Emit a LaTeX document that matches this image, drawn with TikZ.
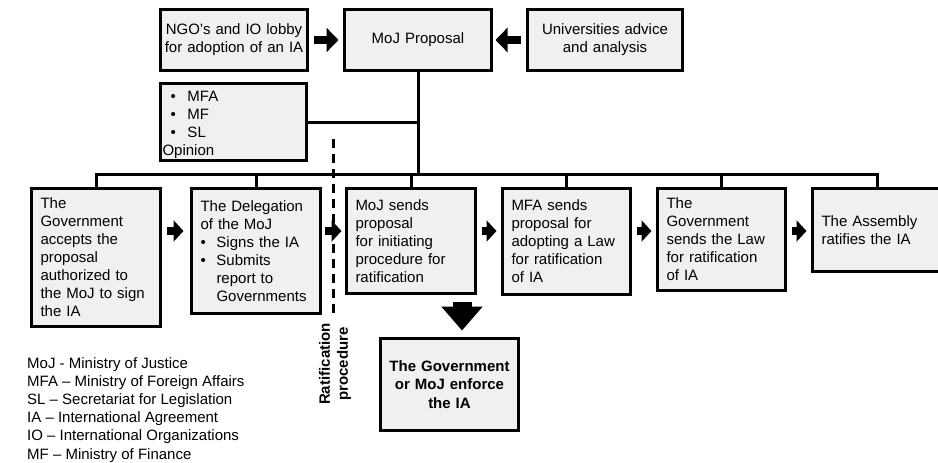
\documentclass[tikz,border=0pt]{standalone}
\usepackage{fontspec}
\setmainfont{Liberation Sans}
\usetikzlibrary{arrows.meta}
\definecolor{boxgray}{RGB}{240,240,240}
\newcommand{\bul}{\makebox[16pt][l]{\textbullet}}
\newcommand{\obul}{\makebox[25pt][l]{\hspace*{8pt}\textbullet}}
\begin{document}
\begin{tikzpicture}[x=1pt,y=-1pt,
  every node/.style={font=\fontsize{15}{18}\selectfont},
  box/.style={draw, line width=3pt, fill=boxgray, inner xsep=9pt, inner ysep=1pt, align=left},
  topbox/.style={box, align=center, inner xsep=4pt},
  conn/.style={line width=3pt},
  dashline/.style={line width=3pt, dash pattern=on 9pt off 6pt},
  blockarrow/.style={line width=8pt, -{Triangle[length=10pt,width=21pt]}},
  toparrow/.style={line width=8pt, -{Triangle[length=12pt,width=24pt]}},
  bigarrow/.style={line width=19pt, -{Triangle[length=24pt,width=40pt]}}]
\useasboundingbox (0,0) rectangle (938,463);
\clip (0,0) rectangle (938,463);

% top row
\node[topbox, text width=139pt, minimum height=61pt] (ngo) at (234,40) {NGO’s and IO lobby\\for adoption of an IA};
\node[topbox, text width=139pt, minimum height=61pt] (moj) at (418,40) {MoJ Proposal};
\node[topbox, text width=147pt, minimum height=61pt] (univ) at (605,40) {Universities advice\\and analysis};

% opinion
\node[box, inner xsep=2pt, text width=142pt, minimum height=71pt] (op) at (233.5,122) {\rule{0pt}{17pt}\obul MFA\\\obul MF\\\obul SL\\Opinion};

% bottom row
\node[box, text width=111pt, minimum height=138pt] (b1) at (96,257.5) {The\\Government\\accepts the\\proposal\\authorized to\\the MoJ to sign\\the IA};
\node[box, text width=111pt, minimum height=125pt] (b2) at (256,251) {The Delegation\\of the MoJ\\\bul Signs the IA\\\bul Submits\\\hspace*{16pt}report to\\\hspace*{16pt}Governments};
\node[box, text width=111pt, minimum height=105pt] (b3) at (411,241) {MoJ sends\\proposal\\for initiating\\procedure for\\ratification};
\node[box, text width=110pt, minimum height=106pt] (b4) at (566.5,241.5) {MFA sends\\proposal for\\adopting a Law\\for ratification\\of IA};
\node[box, text width=110pt, minimum height=102pt] (b5) at (721.5,239.5) {The\\Government\\sends the Law\\for ratification\\of IA};
\node[box, text width=111pt, minimum height=83pt] (b6) at (877,230) {The Assembly\\ratifies the IA};

% final box
\node[box, align=center, inner xsep=2pt, text width=134pt, minimum height=92pt, font=\fontsize{15}{18.5}\selectfont\bfseries] (fin) at (449.5,384.5) {The Government\\or MoJ enforce\\the IA};

% helper coordinates
\coordinate (bus) at (0,174);
\coordinate (arow) at (0,231);
\coordinate (ax) at (462,0);
\coordinate (dtop) at (333,139);
\coordinate (dbot) at (333,317);

% tree connectors
\draw[conn] (moj.south) -- (moj.south |- bus);
\draw[conn] (op.east) -- (op.east -| moj.south);
\draw[conn] (b1.north) |- (b6.north |- bus) -- (b6.north);
\draw[conn] (b2.north) -- (b2.north |- bus);
\draw[conn] (b3.north) -- (b3.north |- bus);
\draw[conn] (b4.north) -- (b4.north |- bus);
\draw[conn] (b5.north) -- (b5.north |- bus);

% dashed separator
\draw[dashline] (dtop) -- (dbot);

% block arrows
\draw[toparrow, shorten <=4.5pt, shorten >=4.5pt] (ngo.east) -- (moj.west);
\draw[toparrow, shorten <=5.5pt, shorten >=2.5pt] (univ.west) -- (moj.east);
\draw[blockarrow, shorten <=4.5pt, shorten >=6.5pt] (b1.east |- arow) -- (b2.west |- arow);
\draw[blockarrow, shorten <=2.5pt, shorten >=3.5pt] (b2.east |- arow) -- (b3.west |- arow);
\draw[blockarrow, shorten <=4.5pt, shorten >=4.5pt] (b3.east |- arow) -- (b4.west |- arow);
\draw[blockarrow, shorten <=4.5pt, shorten >=4.5pt] (b4.east |- arow) -- (b5.west |- arow);
\draw[blockarrow, shorten <=4.5pt, shorten >=4.5pt] (b5.east |- arow) -- (b6.west |- arow);
\draw[bigarrow, shorten <=6.5pt, shorten >=6.5pt] (b3.south -| ax) -- (fin.north -| ax);

% rotated label
\node[rotate=90, align=center, inner sep=0pt, font=\fontsize{15}{18}\selectfont\bfseries] (ratif) at (335,364) {Ratification\\procedure};

% legend
\node[anchor=north west, align=left, inner sep=0pt, font=\fontsize{15}{18.2}\selectfont] (legend) at (27,357) {MoJ - Ministry of Justice\\MFA – Ministry of Foreign Affairs\\SL – Secretariat for Legislation\\IA – International Agreement\\IO – International Organizations\\MF – Ministry of Finance};
\end{tikzpicture}
\end{document}
